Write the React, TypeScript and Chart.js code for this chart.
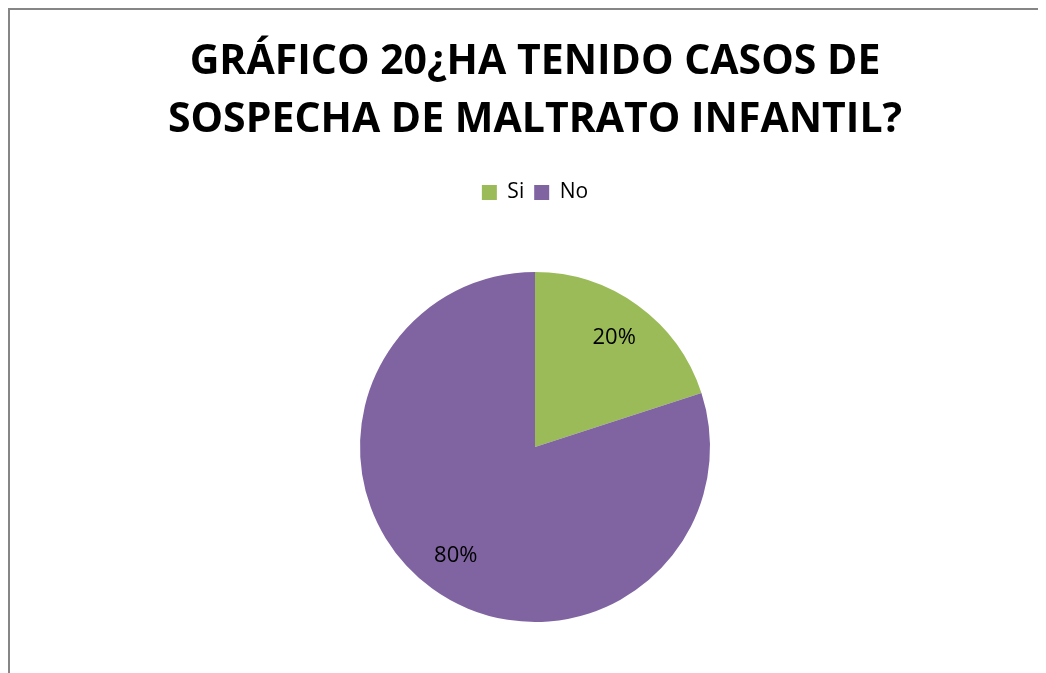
import React, { useEffect, useRef } from "react";
import { Chart, registerables } from "chart.js";

Chart.register(...registerables);

const titleLines = ["GRÁFICO 20¿HA TENIDO CASOS DE", "SOSPECHA DE MALTRATO INFANTIL?"];
const categories = ["Si", "No"];
const values = [20, 80];
const valueLabels = ["20%", "80%"];
const colors = ["#9BBB59", "#8064A2"];

const labelPlugin = {
  id: "sliceLabels",
  afterDatasetsDraw(chart: any) {
    const ctx = chart.ctx;
    const meta = chart.getDatasetMeta(0);
    ctx.save();
    ctx.font = "22px 'Open Sans', sans-serif";
    ctx.fillStyle = "#000";
    ctx.textAlign = "center";
    ctx.textBaseline = "middle";
    meta.data.forEach((arc: any, i: number) => {
      const p = arc.getProps(["x", "y", "startAngle", "endAngle", "outerRadius"], true);
      const mid = (p.startAngle + p.endAngle) / 2;
      const r = p.outerRadius * 0.77;
      ctx.fillText(valueLabels[i], p.x + Math.cos(mid) * r, p.y + Math.sin(mid) * r);
    });
    ctx.restore();
  },
};

export default function App() {
  const ref = useRef<HTMLCanvasElement>(null);
  useEffect(() => {
    document.body.style.overflow = "hidden";
    const chart = new Chart(ref.current!, {
      type: "pie",
      data: {
        labels: categories,
        datasets: [
          {
            data: values,
            backgroundColor: colors,
            borderWidth: 0,
          },
        ],
      },
      options: {
        animation: false,
        responsive: false,
        layout: { padding: { top: 0, bottom: 51 } },
        plugins: {
          title: {
            display: true,
            text: titleLines,
            color: "#000",
            font: { family: "'Open Sans', sans-serif", size: 41, weight: "bold", lineHeight: 58 / 41 },
            padding: { top: 23, bottom: 23 },
          },
          subtitle: {
            display: true,
            text: " ",
            weight: 500,
            font: { size: 10, lineHeight: 1 },
            padding: { top: 0, bottom: 49 },
          },
          legend: {
            display: true,
            position: "top",
            labels: {
              color: "#000",
              font: { family: "'Open Sans', sans-serif", size: 21 },
              boxWidth: 15,
              boxHeight: 15,
              padding: 10,
            },
          },
          tooltip: { enabled: false },
        },
      },
      plugins: [labelPlugin],
    });
    return () => chart.destroy();
  }, []);
  return (
    <div
      style={{
        width: 1038,
        height: 665,
        overflow: "hidden",
        borderLeft: "2px solid #868686",
        borderTop: "2px solid #868686",
        boxSizing: "border-box",
      }}
    >
      <canvas ref={ref} width={1050} height={663} style={{ display: "block" }} />
    </div>
  );
}
